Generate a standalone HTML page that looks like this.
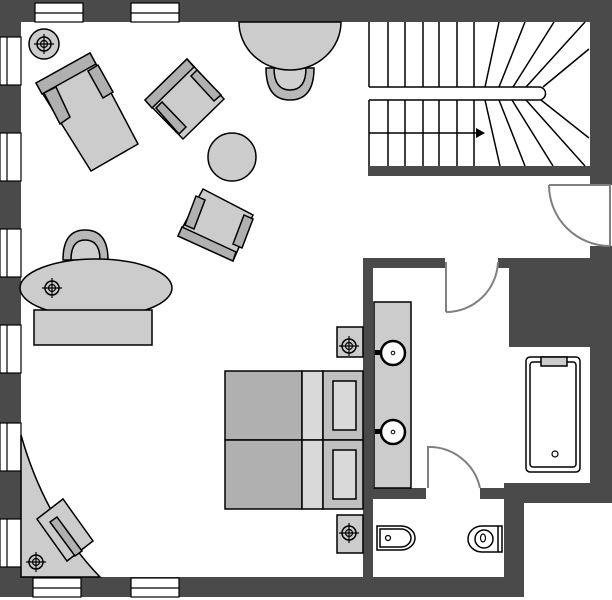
<!DOCTYPE html>
<html><head><style>html,body{margin:0;padding:0;background:#fff}svg{display:block}</style></head><body>
<svg width="612" height="600" viewBox="0 0 612 600" xmlns="http://www.w3.org/2000/svg">
<defs>
<g id="tg"><circle r="7" fill="none" stroke="#000" stroke-width="1.5"/><circle r="3.5" fill="none" stroke="#000" stroke-width="1.2"/><line x1="-10" y1="0" x2="10" y2="0" stroke="#000" stroke-width="1.2"/><line x1="0" y1="-10" x2="0" y2="10" stroke="#000" stroke-width="1.2"/></g>
<g id="wh"><rect x="0" y="0" width="48" height="19" fill="#fff" stroke="#000" stroke-width="1.2"/><line x1="0" y1="10" x2="48" y2="10" stroke="#000" stroke-width="1.2"/></g>
<g id="wv"><rect x="0" y="0" width="21" height="48" fill="#fff" stroke="#000" stroke-width="1.2"/><line x1="7" y1="0" x2="7" y2="48" stroke="#000" stroke-width="1.2"/></g>
</defs>
<g fill="#4a4a4a">
<rect x="0" y="0" width="612" height="22"/>
<rect x="0" y="0" width="21" height="597"/>
<rect x="0" y="577" width="524" height="20"/>
<rect x="590" y="0" width="22" height="185"/>
<rect x="590" y="246" width="22" height="257"/>
<rect x="368" y="166" width="222" height="10"/>
<rect x="363" y="258" width="82" height="10"/>
<rect x="498" y="258" width="114" height="10"/>
<rect x="509" y="258" width="103" height="89"/>
<rect x="363" y="258" width="10" height="339"/>
<rect x="373" y="488" width="53" height="11"/>
<rect x="480" y="488" width="44" height="11"/>
<rect x="504" y="483" width="20" height="114"/>
<rect x="504" y="483" width="108" height="20"/>
</g>
<!-- windows -->
<use href="#wh" x="35" y="3"/><use href="#wh" x="131" y="3"/>
<use href="#wh" x="33" y="578"/><use href="#wh" x="131" y="578"/>
<use href="#wv" x="0" y="37"/><use href="#wv" x="0" y="133"/><use href="#wv" x="0" y="229"/>
<use href="#wv" x="0" y="325"/><use href="#wv" x="0" y="423"/><use href="#wv" x="0" y="519"/>
<!-- stairs -->
<g stroke="#000" stroke-width="1.5" fill="none">
<line x1="369" y1="22" x2="369" y2="87"/><line x1="388" y1="22" x2="388" y2="87"/><line x1="405" y1="22" x2="405" y2="87"/><line x1="423" y1="22" x2="423" y2="87"/><line x1="439" y1="22" x2="439" y2="87"/><line x1="457" y1="22" x2="457" y2="87"/><line x1="474" y1="22" x2="474" y2="87"/>
<line x1="485" y1="87" x2="499" y2="22"/><line x1="499" y1="87" x2="525" y2="22"/><line x1="513" y1="87" x2="554" y2="22"/><line x1="526" y1="87" x2="585" y2="22"/><line x1="543" y1="87" x2="589" y2="49"/>
<line x1="369" y1="100" x2="369" y2="166"/><line x1="388" y1="100" x2="388" y2="166"/><line x1="405" y1="100" x2="405" y2="166"/><line x1="423" y1="100" x2="423" y2="166"/><line x1="439" y1="100" x2="439" y2="166"/><line x1="457" y1="100" x2="457" y2="166"/><line x1="474" y1="100" x2="474" y2="166"/>
<line x1="485" y1="100" x2="500" y2="166"/><line x1="499" y1="100" x2="525" y2="166"/><line x1="512" y1="100" x2="553" y2="166"/><line x1="526" y1="100" x2="585" y2="166"/><line x1="541" y1="100" x2="589" y2="138"/>
<path d="M369 87 H539 A6.5 6.5 0 0 1 539 100 H369" fill="#fff"/>
<line x1="369" y1="133" x2="476" y2="133"/>
</g>
<polygon points="476,128 485,133 476,138" fill="#000"/>
<!-- doors -->
<g stroke="#808080" stroke-width="2" fill="none">
<path d="M549 185 H610 V246 M549 185 A61 61 0 0 0 610 246"/>
<path d="M446 262 V312 M498 262 A52 52 0 0 1 446 312"/>
<path d="M428 488 V447 A52 52 0 0 1 480 488"/>
</g>
<g stroke="#000" stroke-width="1.5">
<!-- top table & chair -->
<path d="M266 68 Q266 100 290 100 Q314 100 314 68 Z" fill="#b8b8b8"/>
<path d="M274 68 Q274 90 290 90 Q306 90 306 68 Z" fill="#d0d0d0"/>
<path d="M239 22 A51 48 0 0 0 341 22 Z" fill="#cccccc"/>
<!-- target near corner -->
<circle cx="44" cy="44" r="15" fill="#cccccc"/>
<!-- chaise -->
<polygon points="36,83 90,53 138,144 91,171" fill="#cccccc"/>
<polygon points="36,83 90,53 96,64 42,94" fill="#b0b0b0"/>
<polygon points="44,93 56,87 70,117 60,124" fill="#b0b0b0"/>
<polygon points="88,71 98,65 113,92 103,98" fill="#b0b0b0"/>
<!-- armchair 1 -->
<polygon points="145,100 187,59 224,99 183,139" fill="#cccccc"/>
<polygon points="145,100 187,59 194,67 152,108" fill="#b0b0b0"/>
<polygon points="156,108 162,102 186,127 179,134" fill="#b0b0b0"/>
<polygon points="191,76 197,70 221,95 214,101" fill="#b0b0b0"/>
<circle cx="232" cy="157" r="24" fill="#cccccc"/>
<!-- armchair 2 -->
<polygon points="203,189 253,215 233,261 178,236" fill="#cccccc"/>
<polygon points="182,227 236,252 233,261 178,236" fill="#b0b0b0"/>
<polygon points="196,196 205,200 194,229 185,225" fill="#b0b0b0"/>
<polygon points="244,215 253,219 242,248 233,244" fill="#b0b0b0"/>
<!-- desk -->
<path d="M63 260 Q63 230 85 230 Q108 230 108 260 Z" fill="#b8b8b8"/>
<path d="M71 260 Q71 240 85 240 Q100 240 100 260 Z" fill="#d0d0d0"/>
<ellipse cx="96" cy="288" rx="76" ry="29" fill="#cccccc"/>
<rect x="34" y="310" width="118" height="35" fill="#cccccc"/>
<!-- corner unit -->
<path d="M21 435 Q45 520 100 577 H21 Z" fill="#cccccc"/>
<polygon points="37,519 63,499 93,541 67,561" fill="#cccccc"/>
<polygon points="50,522 57,517 82,551 75,556" fill="#b0b0b0"/>
<!-- bed -->
<rect x="225" y="371" width="77" height="69" fill="#b0b0b0"/>
<rect x="225" y="440" width="77" height="69" fill="#b0b0b0"/>
<rect x="302" y="371" width="21" height="69" fill="#d9d9d9"/>
<rect x="302" y="440" width="21" height="69" fill="#d9d9d9"/>
<rect x="323" y="371" width="40" height="69" fill="#c0c0c0"/>
<rect x="323" y="440" width="40" height="69" fill="#c0c0c0"/>
<rect x="333" y="381" width="23" height="49" fill="#d9d9d9"/>
<rect x="333" y="450" width="23" height="49" fill="#d9d9d9"/>
<!-- nightstands -->
<rect x="337" y="327" width="26" height="30" fill="#cccccc"/>
<rect x="337" y="515" width="26" height="38" fill="#cccccc"/>
<!-- vanity -->
<rect x="374" y="302" width="37" height="186" fill="#cccccc"/>
<circle cx="393" cy="353" r="12" fill="#fff" stroke-width="2.5"/>
<circle cx="393" cy="432" r="12" fill="#fff" stroke-width="2.5"/>
<circle cx="393" cy="353" r="1.8" fill="#fff" stroke-width="1"/>
<circle cx="393" cy="432" r="1.8" fill="#fff" stroke-width="1"/>
<!-- bathtub -->
<rect x="526" y="357" width="54" height="115" rx="4" fill="#fff"/>
<rect x="530" y="362" width="46" height="105" rx="3" fill="#fff"/>
<rect x="541" y="357" width="26" height="9" fill="#cccccc"/>
<circle cx="555" cy="454" r="3" fill="#fff" stroke-width="1.2"/>
<!-- bidet -->
<path d="M377 526 H401 A14 12 0 0 1 401 550 H377 Z" fill="#fff"/>
<path d="M380 529 H401 A10 9 0 0 1 401 547 H380 Z" fill="#fff"/>
<circle cx="388" cy="538" r="2.5" fill="#fff" stroke-width="1.2"/>
<!-- toilet -->
<path d="M502 526 H482 A14 13 0 0 0 482 552 H502 Z" fill="#fff"/>
<ellipse cx="484" cy="539" rx="9" ry="9" fill="#fff"/>
<ellipse cx="483" cy="538" rx="2.5" ry="4" fill="#fff" stroke-width="1.2"/>
<line x1="498" y1="526" x2="498" y2="552"/>
</g>
<use href="#tg" x="44" y="44"/>
<use href="#tg" x="52" y="288"/>
<use href="#tg" x="36" y="562"/>
<use href="#tg" x="349" y="346"/>
<use href="#tg" x="349" y="533"/>
<rect x="375" y="350" width="7" height="5" fill="#000"/>
<rect x="375" y="429" width="7" height="5" fill="#000"/>
</svg>
</body></html>
